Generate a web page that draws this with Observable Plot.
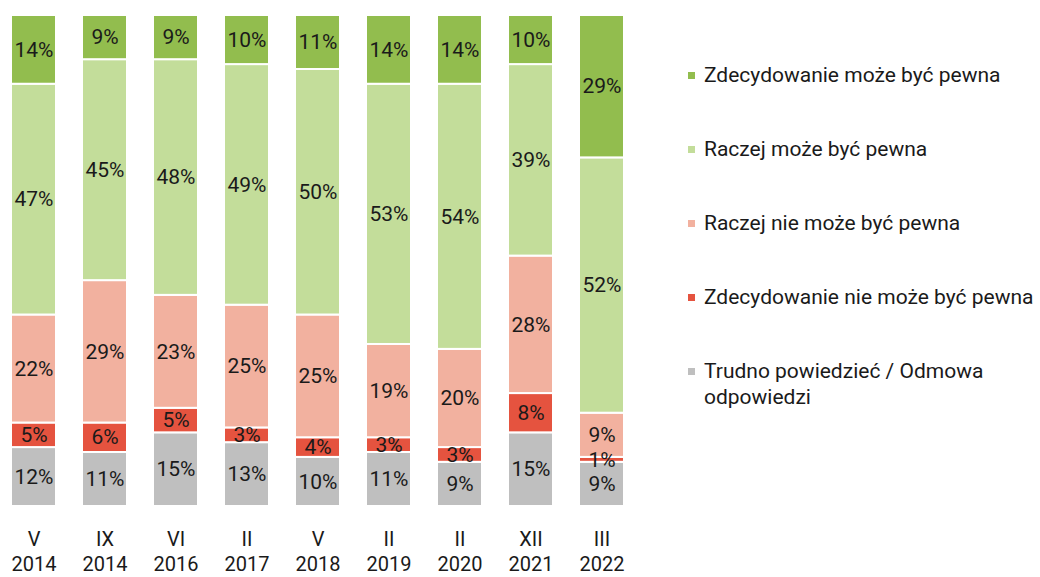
<!DOCTYPE html>
<html><head><meta charset="utf-8">
<script src="https://cdn.jsdelivr.net/npm/d3@7"></script>
<script src="https://cdn.jsdelivr.net/npm/@observablehq/plot@0.6"></script>
<style>
body{margin:0;background:#fff;}
#wrap{position:relative;width:1040px;height:577px;font-family:Roboto,sans-serif;color:#1a1a1a;}
#chart{position:absolute;left:0;top:0;}
#legend{position:absolute;left:688px;top:62px;}
.item{display:flex;align-items:flex-start;height:74px;font-size:21px;line-height:26px;}
.sw{width:7px;height:7px;margin-top:10px;margin-right:9px;flex:none;}
</style></head><body>
<div id="wrap"><div id="chart"></div><div id="legend"></div></div>
<script>
const periods = ["V 2014","IX 2014","VI 2016","II 2017","V 2018","II 2019","II 2020","XII 2021","III 2022"];
// series from bottom to top
const seriesNames = ["Trudno powiedzieć / Odmowa odpowiedzi","Zdecydowanie nie może być pewna","Raczej nie może być pewna","Raczej może być pewna","Zdecydowanie może być pewna"];
const seriesColors = ["#bfbfbf","#e5533f","#f2b19f","#c3dd9a","#92bd4e"];
const trudno     = [12,11,15,13,10,11, 9,15, 9];
const zdecNie    = [ 5, 6, 5, 3, 4, 3, 3, 8, 1];
const raczejNie  = [22,29,23,25,25,19,20,28, 9];
const raczejTak  = [47,45,48,49,50,53,54,39,52];
const zdecTak    = [14, 9, 9,10,11,14,14,10,29];
const seriesValues = [trudno, zdecNie, raczejNie, raczejTak, zdecTak];

const data = [];
seriesNames.forEach((s, si) => periods.forEach((p, pi) => data.push({period: p, series: s, value: seriesValues[si][pi]})));

const chart = Plot.plot({
  width: 660, height: 577,
  marginTop: 15, marginBottom: 71, marginLeft: 0, marginRight: 0,
  style: {fontFamily: "Roboto, sans-serif", color: "#1a1a1a", background: "#fff"},
  x: {domain: periods, range: [-2, 637], paddingInner: 0.366, paddingOuter: 0.183, axis: null, label: null},
  y: {domain: [0, 100], axis: null},
  color: {domain: seriesNames, range: seriesColors},
  marks: [
    Plot.barY(data, Plot.stackY({x: "period", y: "value", fill: "series", z: "series", order: seriesNames, stroke: "white", strokeWidth: 2})),
    Plot.text(data, Plot.stackY({x: "period", y: "value", z: "series", order: seriesNames, text: d => d.value + "%", fontSize: 21, fill: "#1a1a1a"})),
    Plot.axisX({tickSize: 0, tickPadding: 22, fontSize: 20, lineHeight: 1.25, label: null, tickFormat: d => d.replace(" ", "\n"), fill: "#1a1a1a"})
  ]
});
document.getElementById("chart").appendChild(chart);

const legend = document.getElementById("legend");
seriesNames.slice().reverse().forEach((s) => {
  const i = seriesNames.indexOf(s);
  const div = document.createElement("div");
  div.className = "item";
  const sw = document.createElement("span");
  sw.className = "sw";
  sw.style.background = seriesColors[i];
  const t = document.createElement("span");
  t.textContent = s;
  t.style.maxWidth = (i === 0 ? 300 : 345) + "px";
  div.appendChild(sw); div.appendChild(t);
  legend.appendChild(div);
});
</script>
</body></html>
